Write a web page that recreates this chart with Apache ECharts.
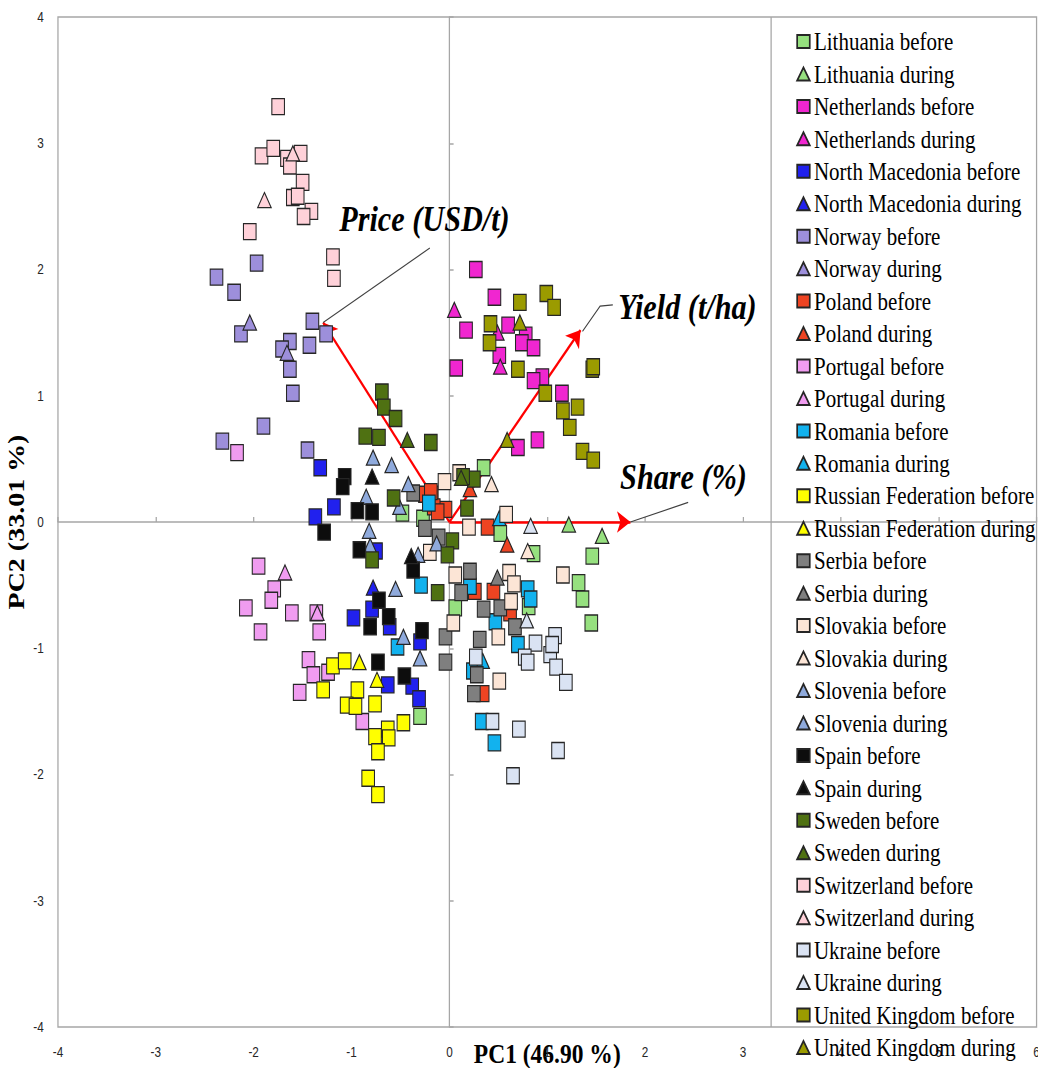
<!DOCTYPE html>
<html>
<head>
<meta charset="utf-8">
<script src="https://cdn.jsdelivr.net/npm/echarts@6/dist/echarts.min.js"></script>
<style>
  html, body { margin: 0; padding: 0; background: #ffffff; overflow: hidden; }
  #wrap { width: 1038px; height: 1068px; overflow: hidden; }
  /* the figure is drawn on a wider canvas and compressed horizontally */
  #chart { width: 1236px; height: 1068px; transform: scaleX(0.84); transform-origin: 0 0; }
</style>
</head>
<body>
<div id="wrap"><div id="chart"></div></div>
<script>
// PCA scores [PC1, PC2] per country, before and during
const lithuaniaBefore = [[0.35,0.43],[0.52,-0.09],[1.46,-0.27],[1.32,-0.48],[1.36,-0.61],[1.45,-0.80],[0.86,-0.25],[0.06,-0.68],[0.81,-0.67],[-0.48,0.07],[-0.27,0.03],[-0.30,-1.54]];
const lithuaniaDuring = [[1.22,-0.02],[1.56,-0.11]];
const netherlandsBefore = [[0.27,2.00],[0.46,1.78],[0.17,1.52],[0.60,1.56],[0.78,1.48],[0.74,1.42],[0.86,1.38],[0.51,1.32],[0.07,1.22],[0.95,1.15],[0.86,1.12],[1.15,1.02],[0.70,0.59],[0.90,0.65]];
const netherlandsDuring = [[0.05,1.68],[0.52,1.23],[0.49,1.50]];
const northMacedoniaBefore = [[-1.32,0.43],[-1.18,0.12],[-1.37,0.04],[-0.75,-0.23],[-0.98,-0.76],[-0.79,-0.69],[-0.61,-0.83],[-0.30,-0.95],[-0.63,-1.29],[-0.38,-1.30],[-0.31,-1.40]];
const northMacedoniaDuring = [[-0.78,-0.52]];
const norwayBefore = [[-2.38,1.94],[-1.97,2.05],[-2.20,1.82],[-1.40,1.59],[-1.26,1.49],[-2.13,1.49],[-1.63,1.43],[-1.71,1.37],[-1.43,1.40],[-1.63,1.21],[-1.60,1.02],[-1.90,0.76],[-2.32,0.64],[-1.45,0.57]];
const norwayDuring = [[-2.04,1.58],[-1.66,1.34]];
const polandBefore = [[-0.25,0.22],[-0.18,0.22],[-0.04,0.10],[-0.16,0.12],[-0.19,0.24],[-0.12,0.08],[0.39,-0.04],[0.26,-0.55],[0.45,-0.55],[0.62,-0.72],[0.34,-1.36]];
const polandDuring = [[0.59,-0.18],[0.21,0.26]];
const portugalBefore = [[-2.17,0.55],[-1.95,-0.35],[-1.79,-0.53],[-1.82,-0.62],[-2.08,-0.68],[-1.61,-0.72],[-1.36,-0.72],[-1.93,-0.87],[-1.33,-0.87],[-1.44,-1.09],[-1.39,-1.21],[-1.24,-1.19],[-1.53,-1.35],[-0.89,-1.58]];
const portugalDuring = [[-1.68,-0.40],[-1.35,-0.72]];
const romaniaBefore = [[-0.21,0.15],[-0.29,-0.50],[-0.53,-0.99],[0.80,-0.53],[0.83,-0.61],[0.47,-0.79],[0.70,-0.97],[0.33,-1.58],[0.46,-1.75],[0.24,-1.18],[0.21,-0.51]];
const romaniaDuring = [[0.51,0.03],[0.34,-1.10]];
const russiaBefore = [[-1.19,-1.14],[-1.07,-1.10],[-1.29,-1.33],[-0.94,-1.33],[-1.05,-1.45],[-0.96,-1.46],[-0.76,-1.44],[-0.47,-1.59],[-0.63,-1.64],[-0.76,-1.70],[-0.62,-1.71],[-0.73,-1.82],[-0.83,-2.03],[-0.73,-2.16]];
const russiaDuring = [[-0.92,-1.11],[-0.74,-1.25]];
const serbiaBefore = [[-0.25,-0.05],[-0.11,-0.12],[0.21,-0.39],[0.12,-0.56],[0.35,-0.69],[0.52,-0.68],[0.67,-0.83],[0.31,-0.93],[-0.04,-0.91],[-0.04,-1.11],[0.28,-1.21],[0.25,-1.36],[-0.37,0.23]];
const serbiaDuring = [[0.49,-0.44]];
const slovakiaBefore = [[-0.05,0.32],[0.10,0.39],[0.20,-0.04],[0.58,0.06],[1.16,-0.42],[0.06,-0.42],[0.61,-0.40],[0.66,-0.49],[0.63,-0.63],[0.04,-0.80],[-0.20,-0.24],[0.50,-0.91],[0.51,-1.26]];
const slovakiaDuring = [[0.43,0.30],[0.80,-0.23]];
const sloveniaBefore = [[-0.78,0.51],[-0.59,0.45],[-0.42,0.30],[-0.85,0.20],[-0.51,0.12],[-0.82,-0.07],[-0.81,-0.19],[-0.32,-0.26]];
const sloveniaDuring = [[-0.55,-0.53],[-0.47,-0.91],[-0.30,-1.08],[-0.13,-0.17]];
const spainBefore = [[-1.07,0.36],[-1.09,0.28],[-0.94,0.09],[-0.79,0.08],[-1.28,-0.08],[-0.92,-0.22],[-0.37,-0.38],[-0.72,-0.62],[-0.62,-0.75],[-0.81,-0.83],[-0.28,-0.86],[-0.73,-1.11],[-0.46,-1.22]];
const spainDuring = [[-0.79,0.36],[-0.39,-0.27]];
const swedenBefore = [[-0.69,1.03],[-0.67,0.91],[-0.55,0.82],[-0.86,0.68],[-0.72,0.67],[-0.19,0.63],[-0.57,0.19],[-0.79,-0.30],[-0.12,-0.56],[0.18,0.11],[0.25,0.34],[0.03,-0.15],[-0.02,-0.26],[0.14,0.36]];
const swedenDuring = [[0.12,0.35],[-0.43,0.65]];
const switzerlandBefore = [[-1.75,3.29],[-1.92,2.90],[-1.80,2.96],[-1.52,2.92],[-1.66,2.88],[-1.63,2.82],[-1.50,2.69],[-1.60,2.57],[-1.55,2.58],[-1.41,2.46],[-1.49,2.42],[-2.04,2.30],[-1.19,2.10],[-1.18,1.93]];
const switzerlandDuring = [[-1.60,2.92],[-1.89,2.55]];
const ukraineBefore = [[1.08,-0.90],[0.88,-0.96],[1.03,-1.05],[0.77,-1.07],[0.27,-1.07],[1.09,-1.15],[1.19,-1.27],[0.80,-1.11],[0.44,-1.58],[0.71,-1.64],[1.11,-1.81],[0.65,-2.01],[1.05,-0.97]];
const ukraineDuring = [[0.83,-0.03],[0.79,-0.78]];
const ukBefore = [[0.72,1.74],[0.99,1.81],[1.07,1.70],[0.42,1.57],[0.41,1.42],[0.70,1.21],[0.98,1.02],[1.16,0.88],[1.31,0.91],[1.23,0.75],[1.46,1.21],[1.47,1.23],[1.36,0.56],[1.47,0.49]];
const ukDuring = [[0.72,1.58],[0.59,0.65]];

// variable loadings (arrow tips)
const loadingNames = ['Price (USD/t)', 'Yield (t/ha)', 'Share (%)'];
const loadingTips = [[-1.29, 1.58], [1.34, 1.52], [1.85, 0.0]];
// callout lines from each arrow tip to its label, and label anchors
const calloutPaths = [
  [[-1.29, 1.58], [-0.20, 2.17]],
  [[1.36, 1.51], [1.54, 1.71], [1.67, 1.72]],
  [[1.85, 0.0], [2.44, 0.155]]
];
const labelAnchors = [[-1.13, 2.40], [1.72, 1.71], [1.74, 0.36]];

// axis tick values
const xTicks = [-4, -3, -2, -1, 0, 1, 2, 3, 4, 5, 6];
const yTicks = [-4, -3, -2, -1, 0, 1, 2, 3, 4];

const groups = [
  ['Lithuania before', '#96E07F', 'rect', lithuaniaBefore],
  ['Lithuania during', '#96E07F', 'triangle', lithuaniaDuring],
  ['Netherlands before', '#F026D0', 'rect', netherlandsBefore],
  ['Netherlands during', '#F026D0', 'triangle', netherlandsDuring],
  ['North Macedonia before', '#2121EE', 'rect', northMacedoniaBefore],
  ['North Macedonia during', '#2121EE', 'triangle', northMacedoniaDuring],
  ['Norway before', '#9D8FDB', 'rect', norwayBefore],
  ['Norway during', '#9D8FDB', 'triangle', norwayDuring],
  ['Poland before', '#EE4422', 'rect', polandBefore],
  ['Poland during', '#EE4422', 'triangle', polandDuring],
  ['Portugal before', '#F09CF0', 'rect', portugalBefore],
  ['Portugal during', '#F09CF0', 'triangle', portugalDuring],
  ['Romania before', '#12B2EE', 'rect', romaniaBefore],
  ['Romania during', '#12B2EE', 'triangle', romaniaDuring],
  ['Russian Federation before', '#FFFF00', 'rect', russiaBefore],
  ['Russian Federation during', '#FFFF00', 'triangle', russiaDuring],
  ['Serbia before', '#7F7F7F', 'rect', serbiaBefore],
  ['Serbia during', '#7F7F7F', 'triangle', serbiaDuring],
  ['Slovakia before', '#FCE5D6', 'rect', slovakiaBefore],
  ['Slovakia during', '#FCE5D6', 'triangle', slovakiaDuring],
  ['Slovenia before', '#8FAADC', 'triangle', sloveniaBefore],
  ['Slovenia during', '#8FAADC', 'triangle', sloveniaDuring],
  ['Spain before', '#0D0D0D', 'rect', spainBefore],
  ['Spain during', '#0D0D0D', 'triangle', spainDuring],
  ['Sweden before', '#4F7112', 'rect', swedenBefore],
  ['Sweden during', '#4F7112', 'triangle', swedenDuring],
  ['Switzerland before', '#FFD1D9', 'rect', switzerlandBefore],
  ['Switzerland during', '#FFD1D9', 'triangle', switzerlandDuring],
  ['Ukraine before', '#DAE3F3', 'rect', ukraineBefore],
  ['Ukraine during', '#DAE3F3', 'triangle', ukraineDuring],
  ['United Kingdom before', '#9B9B00', 'rect', ukBefore],
  ['United Kingdom during', '#9B9B00', 'triangle', ukDuring]
];

const serif = '"Liberation Serif", "Times New Roman", serif';
const sans = '"Liberation Sans", Arial, sans-serif';
const frameColor = '#A6A6A6';

const scatterSeries = groups.map(([name, color, shape, data]) => ({
  name: name,
  type: 'scatter',
  data: data,
  symbol: shape,
  symbolSize: shape === 'rect' ? [15, 16] : [16, 15],
  itemStyle: { color: color, borderColor: '#262626', borderWidth: 1.3, opacity: 1 },
  emphasis: { disabled: true },
  z: 3
}));

const chart = echarts.init(document.getElementById('chart'), null, { renderer: 'svg' });

chart.setOption({
  animation: false,
  backgroundColor: '#ffffff',
  grid: {
    left: 69, right: 2, top: 17, bottom: 41,
    outerBoundsMode: 'none',
    containLabel: false,
    show: true, borderColor: frameColor, borderWidth: 1.5
  },
  xAxis: [
    {
      type: 'value', min: xTicks[0], max: xTicks[xTicks.length - 1], interval: 1,
      position: 'bottom',
      axisLine: { show: false, onZero: false },
      axisTick: { show: false },
      splitLine: { show: false },
      axisLabel: { margin: 18, fontSize: 14, color: '#262626', fontFamily: sans },
      name: 'PC1 (46.90 %)', nameLocation: 'middle', nameGap: 13,
      nameMoveOverlap: false,
      nameTextStyle: { fontFamily: serif, fontWeight: 'bold', fontSize: 28, color: '#000000', backgroundColor: '#ffffff' }
    },
    {
      type: 'value', min: xTicks[0], max: xTicks[xTicks.length - 1], interval: 1,
      position: 'top',
      axisLine: { show: true, onZero: true, onZeroAxisIndex: 0, lineStyle: { color: frameColor, width: 1.5 } },
      axisTick: { show: true, length: 5, lineStyle: { color: frameColor, width: 1.5 } },
      axisLabel: { show: false },
      splitLine: { show: false }
    }
  ],
  yAxis: [
    {
      type: 'value', min: yTicks[0], max: yTicks[yTicks.length - 1], interval: 1,
      position: 'left',
      axisLine: { show: false, onZero: false },
      axisTick: { show: false },
      splitLine: { show: false },
      axisLabel: { margin: 17, fontSize: 14, color: '#262626', fontFamily: sans },
      name: 'PC2 (33.01 %)', nameLocation: 'middle', nameGap: 36, nameRotate: 90,
      nameMoveOverlap: false,
      nameTextStyle: { fontFamily: serif, fontWeight: 'bold', fontSize: 28, color: '#000000' }
    },
    {
      type: 'value', min: yTicks[0], max: yTicks[yTicks.length - 1], interval: 1,
      position: 'right',
      axisLine: { show: true, onZero: true, onZeroAxisIndex: 0, lineStyle: { color: frameColor, width: 1.5 } },
      axisTick: { show: true, length: 5, lineStyle: { color: frameColor, width: 1.5 } },
      axisLabel: { show: false },
      splitLine: { show: false }
    }
  ],
  legend: {
    orient: 'vertical',
    left: 948, top: 29,
    padding: 0,
    itemGap: 7.45,
    itemWidth: 15, itemHeight: 13,
    selectedMode: false,
    textStyle: { fontFamily: serif, fontSize: 25, lineHeight: 25, color: '#000000' },
    data: groups.map(g => ({ name: g[0], icon: g[2] }))
  },
  graphic: [
    {
      // left edge of the legend box
      type: 'line', silent: true, z: 5,
      shape: { x1: 918, y1: 17, x2: 918, y2: 1027 },
      style: { stroke: frameColor, lineWidth: 1.5 }
    }
  ],
  series: [
    {
      type: 'lines', coordinateSystem: 'cartesian2d', polyline: false,
      symbol: ['none', 'arrow'], symbolSize: 16,
      lineStyle: { color: '#FF0000', width: 2.5, opacity: 1, curveness: 0 },
      data: loadingTips.map(t => ({ coords: [[0, 0], t] })),
      silent: true, z: 2
    },
    {
      type: 'lines', coordinateSystem: 'cartesian2d', polyline: true,
      symbol: 'none',
      lineStyle: { color: '#404040', width: 1.2, opacity: 1 },
      data: calloutPaths.map(p => ({ coords: p })),
      silent: true, z: 2
    },
    {
      type: 'scatter',
      data: labelAnchors.map((a, i) => ({ value: a, name: loadingNames[i] })),
      symbolSize: 1,
      itemStyle: { color: 'rgba(0,0,0,0)' },
      label: {
        show: true, position: 'right', distance: 0, formatter: '{b}', opacity: 1,
        fontFamily: serif, fontWeight: 'bold', fontStyle: 'italic', fontSize: 36, color: '#000000'
      },
      silent: true, z: 4
    }
  ].concat(scatterSeries)
});
</script>
</body>
</html>
